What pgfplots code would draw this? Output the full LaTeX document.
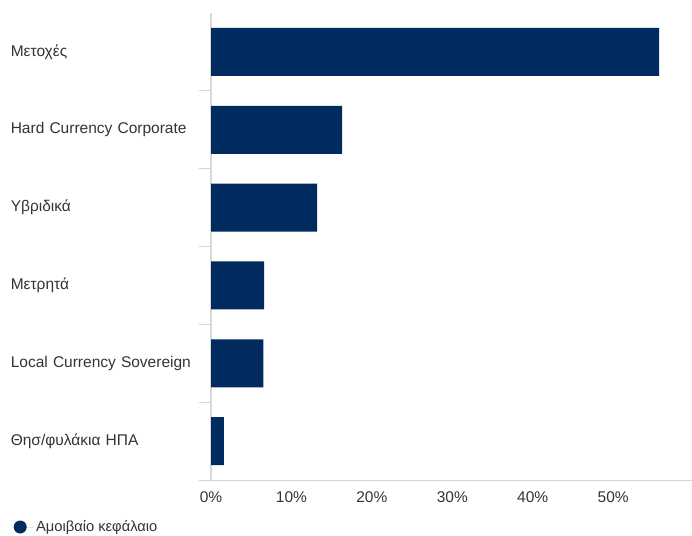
\documentclass[border=0pt]{standalone}
\usepackage{fontspec}
\setmainfont{Liberation Sans}
\usepackage{pgfplots}
\pgfplotsset{compat=1.18}
\definecolor{barblue}{HTML}{012A5E}
\definecolor{txt}{HTML}{333333}
\definecolor{tickc}{HTML}{CCD6EB}
\definecolor{yline}{HTML}{D8D8D8}
\begin{document}
\begin{tikzpicture}
\fontsize{15.4bp}{18bp}\selectfont
\useasboundingbox (0,0) rectangle (692bp,536bp);
\begin{axis}[
    at={(211bp,56bp)}, anchor=south west,
    scale only axis,
    width=481bp, height=467bp,
    xbar, bar width=48bp, bar shift=0pt,
    xmin=0, xmax=59.8,
    ymin=-0.5, ymax=5.5, y dir=reverse,
    ytick={0,1,2,3,4,5},
    yticklabels={Μετοχές, Hard Currency Corporate, Υβριδικά, Μετρητά, Local Currency Sovereign, Θησ/φυλάκια ΗΠΑ},
    minor ytick={0.5,1.5,2.5,3.5,4.5,5.5},
    xtick={0,10,20,30,40,50},
    xticklabel={\pgfmathprintnumber{\tick}\%},
    /pgf/number format/assume math mode=true,
    major tick length=0pt,
    minor tick length=12bp,
    tick align=outside,
    minor tick style={draw=tickc, line width=1bp},
    axis x line*=bottom, axis y line*=left,
    x axis line style={draw=tickc, line width=1bp, -},
    y axis line style={draw=yline, line width=1.5bp, -},
    tick label style={font=\fontsize{15.5bp}{18bp}\selectfont, text=txt},
    yticklabel style={text width=200bp, align=left, inner sep=0pt},
    xticklabel style={yshift=-6bp},
    legend style={at={(axis description cs:0,0)}, anchor=west, xshift=-200.5bp, yshift=-47bp,
        draw=none, fill=none, font=\fontsize{14.7bp}{17bp}\selectfont, text=txt},
    legend image code/.code={\fill[barblue] (0bp,0bp) circle (6.5bp);
        \path (-6.5bp,0bp) -- (14bp,0bp);},
]
\addplot[fill=barblue, draw=none] coordinates {
    (55.7,0) (16.3,1) (13.2,2) (6.6,3) (6.5,4) (1.6,5)};
\legend{Αμοιβαίο κεφάλαιο}
\end{axis}
\end{tikzpicture}
\end{document}
